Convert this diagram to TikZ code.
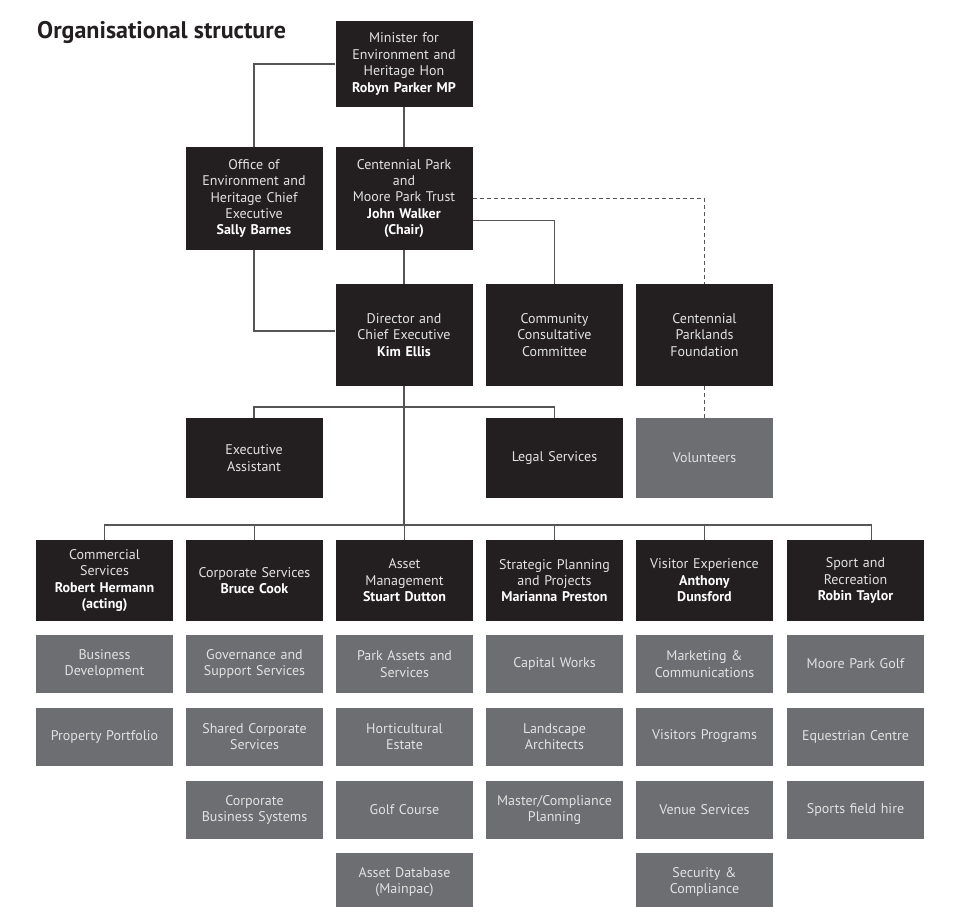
\documentclass[tikz,border=0pt]{standalone}
\usepackage{fontspec}
\setmainfont{PT Sans}
\usepackage{tikz}
\usetikzlibrary{positioning}

\definecolor{boxdark}{HTML}{231F20}
\definecolor{boxgrey}{HTML}{6D6E71}
\definecolor{linegrey}{HTML}{555555}
\definecolor{textpale}{HTML}{E2E2E2}

\begin{document}
\begin{tikzpicture}[x=1pt, y=-1pt,
    headbox/.style={fill=boxdark, text=textpale, inner sep=0pt, align=center,
        text width=135pt, minimum width=137pt,
        font=\fontsize{14}{16.4}\selectfont},
    unitbox/.style={fill=boxgrey, text=textpale, inner sep=0pt, align=center,
        text width=135pt, minimum width=137pt, minimum height=58pt,
        font=\fontsize{14}{16.4}\selectfont},
    link/.style={draw=linegrey, line width=1.1pt},
    dotlink/.style={draw=linegrey, line width=1.2pt, dash pattern=on 4pt off 3pt}]
    \useasboundingbox[fill=white] (0,0) rectangle (963,906);
    % Titulo
    \node[anchor=base west, text=boxdark, inner sep=0pt,
        font=\fontsize{24}{26}\selectfont\bfseries] (title) at (37,38)
        {Organisational structure};
    % Nivel superior
    \node[headbox, minimum height=86pt] (minister) at (404,64)
        {Minister for\\Environment and\\Heritage Hon\\\textcolor{white}{\textbf{Robyn Parker MP}}};
    \node[headbox, minimum height=103pt] (oeh) at (254,198.5)
        {Office of\\Environment and\\Heritage Chief\\Executive\\\textcolor{white}{\textbf{Sally Barnes}}};
    \node[headbox, minimum height=103pt] (trust) at (404,198.5)
        {Centennial Park\\and\\Moore Park Trust\\\textcolor{white}{\textbf{John Walker}}\\\textcolor{white}{\textbf{(Chair)}}};
    \node[headbox, minimum height=102pt] (director) at (404,335)
        {Director and\\Chief Executive\\\textcolor{white}{\textbf{Kim Ellis}}};
    \node[headbox, minimum height=102pt] (community) at (554.5,335)
        {Community\\Consultative\\Committee};
    \node[headbox, minimum height=102pt] (foundation) at (704.5,335)
        {Centennial\\Parklands\\Foundation};
    \node[headbox, minimum height=80pt] (assistant) at (254,458)
        {Executive\\Assistant};
    \node[headbox, minimum height=80pt] (legal) at (554.5,458)
        {Legal Services};
    \node[unitbox, minimum height=80pt] (volunteers) at (704.5,458)
        {Volunteers};
    % Direcciones
    \node[headbox, minimum height=81pt] (commercial) at (104.5,580.5)
        {Commercial\\Services\\\textcolor{white}{\textbf{Robert Hermann}}\\\textcolor{white}{\textbf{(acting)}}};
    \node[headbox, minimum height=81pt] (corporate) at (254.5,580.5)
        {Corporate Services\\\textcolor{white}{\textbf{Bruce Cook}}};
    \node[headbox, minimum height=81pt] (asset) at (404.5,580.5)
        {Asset\\Management\\\textcolor{white}{\textbf{Stuart Dutton}}};
    \node[headbox, minimum height=81pt] (strategic) at (554.5,580.5)
        {Strategic Planning\\and Projects\\\textcolor{white}{\textbf{Marianna Preston}}};
    \node[headbox, minimum height=81pt] (visitor) at (704.5,580.5)
        {Visitor Experience\\\textcolor{white}{\textbf{Anthony}}\\\textcolor{white}{\textbf{Dunsford}}};
    \node[headbox, minimum height=81pt] (sport) at (855.5,580.5)
        {Sport and\\Recreation\\\textcolor{white}{\textbf{Robin Taylor}}};
    % Unidades
    \node[unitbox] (busdev) at (104.5,664) {Business\\Development};
    \node[unitbox] (property) at (104.5,736.5) {Property Portfolio};
    \node[unitbox] (governance) at (254.5,664) {Governance and\\Support Services};
    \node[unitbox] (shared) at (254.5,736.5) {Shared Corporate\\Services};
    \node[unitbox] (systems) at (254.5,810) {Corporate\\Business Systems};
    \node[unitbox] (parkassets) at (404.5,664) {Park Assets and\\Services};
    \node[unitbox] (horticultural) at (404.5,736.5) {Horticultural\\Estate};
    \node[unitbox] (golfcourse) at (404.5,810) {Golf Course};
    \node[unitbox] (database) at (404.5,882) {Asset Database\\(Mainpac)};
    \node[unitbox] (capital) at (554.5,664) {Capital Works};
    \node[unitbox] (landscape) at (554.5,736.5) {Landscape\\Architects};
    \node[unitbox] (master) at (554.5,810) {Master/Compliance\\Planning};
    \node[unitbox] (marketing) at (704.5,664) {Marketing \&\\Communications};
    \node[unitbox] (programs) at (704.5,736.5) {Visitors Programs};
    \node[unitbox] (venue) at (704.5,810) {Venue Services};
    \node[unitbox] (security) at (704.5,882) {Security \&\\Compliance};
    \node[unitbox] (moorepark) at (855.5,664) {Moore Park Golf};
    \node[unitbox] (equestrian) at (855.5,736.5) {Equestrian Centre};
    \node[unitbox] (sportsfield) at (855.5,810) {Sports field hire};
    % Lineas
    \coordinate (execbar) at (404,407);
    \coordinate (busbar) at (404,525);
    \draw[link] (minister.west) -| (oeh.north);
    \draw[link] (minister) -- (trust);
    \draw[link] (trust) -- (director);
    \draw[link] (oeh.south) |- ([yshift=4pt]director.west);
    \draw[link] (trust.east) ++(0,22) -| (community.north);
    \draw[dotlink] (trust.east) -| (foundation.north);
    \draw[dotlink] (foundation) -- (volunteers);
    \draw[link] (director.south) -- (busbar);
    \draw[link] (assistant.north) |- (execbar) -| (legal.north);
    \foreach \n in {commercial,corporate,asset,strategic,visitor} {
        \draw[link] (busbar) -| (\n.north);
    }
    \draw[link] (busbar) -| ([xshift=16pt]sport.north);
\end{tikzpicture}
\end{document}
